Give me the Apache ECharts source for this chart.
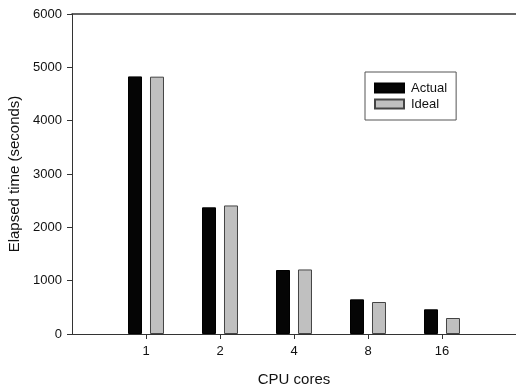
<!DOCTYPE html>
<html>
<head>
<meta charset="utf-8">
<script src="https://cdn.jsdelivr.net/npm/echarts@6/dist/echarts.min.js"></script>
<style>
html,body{margin:0;padding:0;background:#fff;}
#chart{width:516px;height:391px;}
</style>
</head>
<body>
<div id="chart"></div>
<script>
var categories = ['', '1', '2', '4', '8', '16', ''];
var actual = ['-', 4830, 2375, 1200, 650, 463, '-'];
var ideal = ['-', 4825, 2410, 1210, 600, 300, '-'];
var yTicks = [0, 1000, 2000, 3000, 4000, 5000, 6000];

var chart = echarts.init(document.getElementById('chart'), null, {renderer: 'canvas'});
var font = 'Liberation Sans, Arial, sans-serif';
chart.setOption({
  animation: false,
  backgroundColor: '#fff',
  grid: {left: 72, right: 0, top: 14, bottom: 57, containLabel: false, outerBoundsMode: 'none'},
  legend: {
    data: [{name: 'Actual', icon: 'rect'}, {name: 'Ideal', icon: 'rect'}],
    orient: 'vertical',
    left: 365, top: 72,
    padding: [9, 9, 9, 9],
    itemGap: 2,
    itemWidth: 29, itemHeight: 9,
    borderColor: '#555', borderWidth: 1,
    selectedMode: false,
    textStyle: {fontFamily: font, fontSize: 13, color: '#111', lineHeight: 14, padding: [0, 0, 0, 2]}
  },
  xAxis: [{
    type: 'category',
    data: categories,
    boundaryGap: false,
    name: 'CPU cores',
    nameLocation: 'middle',
    nameGap: 38,
    nameTextStyle: {fontFamily: font, fontSize: 15, color: '#111'},
    axisLine: {lineStyle: {color: '#333', width: 1}},
    axisTick: {show: true, length: 5, inside: false, lineStyle: {color: '#333'},
      interval: function (i, v) { return v !== ''; }},
    axisLabel: {fontFamily: font, fontSize: 13, color: '#111', margin: 11,
      interval: 0},
    splitLine: {show: false}
  }, {
    type: 'category',
    data: categories,
    boundaryGap: false,
    position: 'top',
    axisLine: {lineStyle: {color: '#333', width: 1.5}},
    axisTick: {show: false},
    axisLabel: {show: false},
    splitLine: {show: false}
  }],
  yAxis: {
    type: 'value',
    min: yTicks[0], max: yTicks[yTicks.length - 1], interval: 1000,
    name: 'Elapsed time (seconds)',
    nameLocation: 'middle',
    nameGap: 49,
    nameRotate: 90,
    nameTextStyle: {fontFamily: font, fontSize: 15, color: '#111'},
    axisLine: {show: true, lineStyle: {color: '#333', width: 1}},
    axisTick: {show: true, length: 5, lineStyle: {color: '#333'}},
    axisLabel: {fontFamily: font, fontSize: 13, color: '#111', margin: 10,
      formatter: function (v) { return String(v); }},
    splitLine: {show: false}
  },
  series: [{
    name: 'Actual',
    type: 'bar',
    data: actual,
    barWidth: 14,
    barGap: '57%',
    itemStyle: {color: '#050505', borderColor: '#000', borderWidth: 1}
  }, {
    name: 'Ideal',
    type: 'bar',
    data: ideal,
    barWidth: 14,
    barGap: '57%',
    itemStyle: {color: '#c0c0c0', borderColor: '#444', borderWidth: 1}
  }]
});
</script>
</body>
</html>
